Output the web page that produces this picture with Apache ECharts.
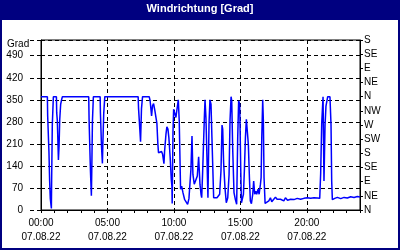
<!DOCTYPE html>
<html>
<head>
<meta charset="utf-8">
<script src="https://cdn.jsdelivr.net/npm/echarts@6/dist/echarts.min.js"></script>
<style>
html,body{margin:0;padding:0;background:#fff;}
#c{width:400px;height:250px;}
</style>
</head>
<body>
<div id="c"></div>
<script>
// ---- data ----
const titleText = 'Windrichtung [Grad]';
const yAxisName = 'Grad';
const leftMax = 540;
const dirLabels = ['N','NE','E','SE','S','SW','W','NW','N','NE','E','SE','S'];
const timeLabels = ['00:00','05:00','10:00','15:00','20:00'];
const dateLabel = '07.08.22';

const hours = [
  0.00,0.48,0.50,0.60,0.65,0.70,0.78,0.80,0.85,0.93,
  1.16,1.18,1.23,1.31,1.36,1.41,1.48,1.56,1.61,
  3.59,3.62,3.72,3.79,3.82,3.87,3.94,
  4.45,4.47,4.55,4.62,4.65,4.72,4.80,
  7.31,7.34,7.44,7.49,7.56,7.64,
  8.14,8.21,8.32,8.39,8.47,8.57,8.72,8.79,8.84,8.94,9.07,9.15,
  9.25,9.30,9.40,9.47,9.55,9.62,9.72,9.80,9.85,9.87,9.93,9.98,
  10.08,10.15,10.23,10.33,10.40,10.50,10.58,10.68,10.80,10.90,
  11.03,11.13,11.28,11.36,11.43,11.53,11.63,11.76,11.86,11.96,
  12.04,12.09,12.16,12.29,12.34,12.41,12.49,12.56,12.64,12.71,12.79,12.86,12.99,
  13.12,13.24,13.37,13.44,13.54,13.62,13.67,13.74,13.84,13.94,
  14.05,14.15,14.22,14.30,14.35,14.42,14.52,14.62,14.72,14.80,14.87,14.95,
  15.03,15.08,15.15,15.23,15.30,15.38,15.45,15.53,15.60,15.68,15.75,15.83,15.93,
  16.00,16.08,16.16,16.23,16.33,16.41,16.51,16.56,16.61,16.68,16.73,16.78,16.86,
  17.01,17.14,17.26,17.36,17.51,17.64,17.76,17.89,
  18.02,18.12,18.27,18.39,18.55,18.78,18.90,
  19.03,19.28,19.53,19.78,20.04,20.29,20.54,20.79,20.97,
  21.04,21.12,21.22,21.29,21.37,21.44,21.57,21.74,21.82,21.87,21.92,
  22.10,22.30,22.55,22.80,23.05,23.30,23.55,23.80,24.00
];
const degrees = [
  360,360,301,182,92,36,5,92,270,360,
  360,310,283,159,204,288,336,352,360,
  360,283,124,45,124,283,360,
  360,310,204,148,204,307,360,
  360,322,253,217,322,360,
  360,347,299,331,338,315,275,211,182,179,186,177,
  147,188,240,264,257,230,166,98,76,21,246,320,
  304,294,320,350,283,66,76,55,34,29,
  18,36,129,235,113,82,85,108,169,82,
  50,39,119,294,350,294,159,39,273,350,336,230,39,
  34,39,41,50,124,270,257,150,71,23,
  39,113,283,360,347,198,55,34,18,230,347,336,
  124,23,29,50,124,230,288,283,209,103,29,20,50,
  92,50,60,50,66,50,82,103,230,350,283,103,21,
  21,29,39,26,34,41,34,29,
  34,39,29,39,31,34,28,
  33,37,34,37,39,37,39,38,37,
  115,276,360,92,270,330,360,360,270,92,33,
  37,40,36,40,38,42,40,43,41
];

// ---- chart ----
const FONT = 'Liberation Sans';
const chart = echarts.init(document.getElementById('c'), null, {renderer: 'canvas'});
const axisText = {color: '#000', fontSize: 10, fontFamily: FONT};

chart.setOption({
  animation: false,
  backgroundColor: '#fff',
  title: {
    text: titleText,
    left: 'center',
    top: 3,
    padding: 0,
    textStyle: {color: '#fff', fontSize: 11, fontWeight: 'bold', fontFamily: FONT}
  },
  graphic: [
    {type: 'rect', z: -1, shape: {x: 0, y: 0, width: 400, height: 20}, style: {fill: '#000080'}},
    {type: 'rect', z: -1, shape: {x: 1, y: 1, width: 398, height: 248}, style: {fill: null, stroke: '#000080', lineWidth: 2}},
    {type: 'text', left: 7, top: 39, style: {text: yAxisName, fill: '#000', font: '10px ' + FONT}}
  ],
  grid: {left: 41, right: 40, top: 40, bottom: 40, show: true, borderColor: '#000', borderWidth: 1, backgroundColor: '#fff'},
  xAxis: {
    type: 'value',
    min: 0, max: 24, interval: 5,
    axisLine: {lineStyle: {color: '#000', width: 1}},
    axisTick: {show: true, length: 3, lineStyle: {color: '#000'}},
    minorTick: {show: true, splitNumber: 5, length: 3, lineStyle: {color: '#000'}},
    axisLabel: Object.assign({}, axisText, {
      showMaxLabel: false,
      margin: 6,
      lineHeight: 14,
      formatter: function (v) {
        const i = Math.round(v / 5);
        return (timeLabels[i] || '') + '\n' + dateLabel;
      }
    }),
    splitLine: {show: true, lineStyle: {color: '#000', type: [4, 3], width: 1}}
  },
  yAxis: [
    {
      type: 'value',
      position: 'left',
      min: 0, max: leftMax, interval: 70,
      axisLine: {show: true, lineStyle: {color: '#000'}},
      axisTick: {show: true, length: 14, lineStyle: {color: '#000', type: [4, 3]}},
      axisLabel: Object.assign({}, axisText, {
        margin: 18,
        formatter: function (v) { return v >= leftMax ? '' : String(v); }
      }),
      splitLine: {show: true, lineStyle: {color: '#000', type: [4, 3], width: 1}}
    },
    {
      type: 'value',
      position: 'right',
      min: 0, max: 540, interval: 45,
      axisLine: {show: true, lineStyle: {color: '#000'}},
      axisTick: {show: true, length: 3, lineStyle: {color: '#000'}},
      axisLabel: Object.assign({}, axisText, {
        margin: 4,
        formatter: function (v) { return dirLabels[Math.round(v / 45)] || ''; }
      }),
      splitLine: {show: false}
    }
  ],
  series: [{
    type: 'line',
    yAxisIndex: 0,
    data: hours.map(function (h, i) { return [h, degrees[i]]; }),
    showSymbol: false,
    symbol: 'none',
    lineStyle: {color: '#0000ff', width: 1.5},
    z: 3
  }]
});
</script>
</body>
</html>
